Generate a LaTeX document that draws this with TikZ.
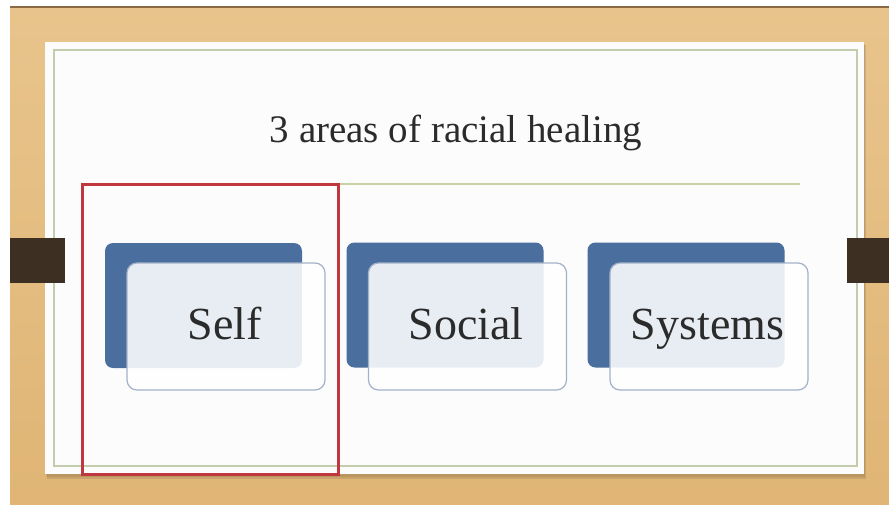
\documentclass[tikz,border=0pt]{standalone}
\usepackage{fontspec}
\setmainfont{Liberation Serif}
\definecolor{wood}{HTML}{E0B575}
\definecolor{woodlight}{HTML}{E8C48C}
\definecolor{woodedge}{HTML}{8A6A42}
\definecolor{barbrown}{HTML}{3D3022}
\definecolor{frameline}{HTML}{C3CDAE}
\definecolor{ruleline}{HTML}{C9D1A4}
\definecolor{darkblue}{HTML}{4A6E9E}
\definecolor{boxedge}{HTML}{A3B2C8}
\definecolor{hlred}{HTML}{C1373E}
\definecolor{txt}{HTML}{2B2B2B}
\tikzset{
  backbox/.style={fill=darkblue, draw=none, rounded corners=8pt, inner sep=0pt,
    minimum width=197pt, minimum height=125pt},
  frontbox/.style={fill=white, fill opacity=0.88, draw=boxedge, line width=1.2pt,
    rounded corners=10pt, inner sep=0pt, minimum width=198pt, minimum height=127pt},
  boxlabel/.style={text=txt, anchor=base, inner sep=0pt, font=\fontsize{46}{50}\selectfont},
  barshape/.style={fill=barbrown, draw=none},
}
\begin{document}
\begin{tikzpicture}[x=1pt,y=-1pt]
\useasboundingbox (0,0) rectangle (889,504);
\fill[white] (0,0) rectangle (889,504);
% wood background
\shade[top color=woodlight, bottom color=wood] (10,6) rectangle (889,504);
\fill[woodedge] (10,6) rectangle (889,8);
% panel shadow
\fill[black, opacity=0.10] (47,45) rectangle (866,479);
\fill[black, opacity=0.08] (46,44) rectangle (865,477);
% panel
\fill[white!98!gray] (45,42) rectangle (864,474);
\draw[frameline, line width=1.5pt] (54,50) rectangle (857,466);
% title
\node[text=txt, anchor=base, inner sep=0pt, font=\fontsize{39}{43}\selectfont] (title) at (456,142) {3 areas of racial healing};
\coordinate (ruleL) at (265,184);
\coordinate (ruleR) at (800,184);
\draw[ruleline, line width=2pt] (ruleL) -- (ruleR);
% bars
\node[barshape, minimum width=55pt, minimum height=45pt, inner sep=0pt] (barL) at (37.5,260) {};
\node[barshape, minimum width=42pt, minimum height=45pt, inner sep=0pt] (barR) at (868,260) {};
% groups
\node[backbox] (selfback) at (203.5,305.5) {};
\node[frontbox] (selffront) at (226,326.5) {};
\node[boxlabel] (selflabel) at (225,339) {Self};
\node[backbox] (socialback) at (445,305) {};
\node[frontbox] (socialfront) at (467.5,326.5) {};
\node[boxlabel] (sociallabel) at (466,339) {Social};
\node[backbox] (systemsback) at (686,305) {};
\node[frontbox] (systemsfront) at (709,326.5) {};
\node[boxlabel] (systemslabel) at (707.5,339.5) {Systems};
% highlight
\node[draw=hlred, line width=3pt, inner sep=0pt, minimum width=256pt, minimum height=290pt] (highlight) at (210.5,329.5) {};
\end{tikzpicture}
\end{document}
